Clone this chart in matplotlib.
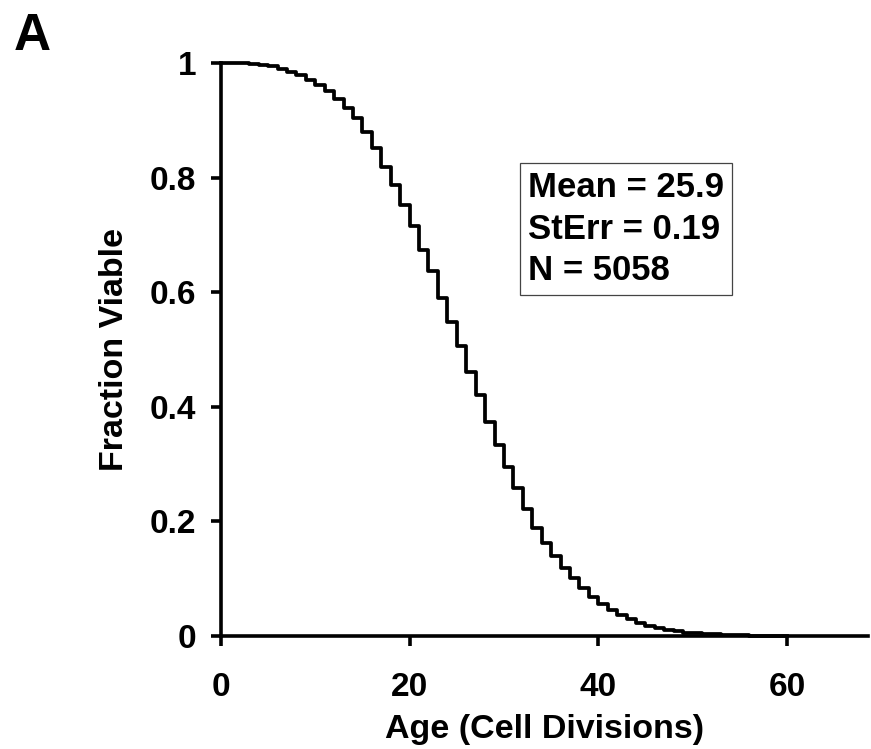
import numpy as np
import matplotlib
matplotlib.use("Agg")
import matplotlib.pyplot as plt

plt.rcParams['font.family'] = ['Liberation Sans', 'DejaVu Sans']
plt.rcParams['font.weight'] = 'bold'

# fraction of cells still viable at each age (cell divisions)
ages = np.arange(0, 61)
viable = [1.000, 1.000, 1.000, 0.999, 0.997, 0.994, 0.990, 0.985, 0.979, 0.971,
          0.962, 0.952, 0.938, 0.922, 0.904, 0.880, 0.851, 0.819, 0.787, 0.752,
          0.716, 0.674, 0.637, 0.590, 0.548, 0.506, 0.461, 0.421, 0.373, 0.333,
          0.295, 0.258, 0.221, 0.188, 0.162, 0.139, 0.119, 0.101, 0.084, 0.068,
          0.056, 0.045, 0.037, 0.030, 0.023, 0.017, 0.014, 0.010, 0.008, 0.006,
          0.005, 0.004, 0.003, 0.002, 0.0015, 0.001, 0.0007, 0.0004, 0.0002, 0.0001,
          0.0]

xticks = [0, 20, 40, 60]
yticks = [0, 0.2, 0.4, 0.6, 0.8, 1.0]
ytick_labels = ['0', '0.2', '0.4', '0.6', '0.8', '1']
stats = "Mean = 25.9\nStErr = 0.19\nN = 5058"

W, H = 871, 749
fig = plt.figure(figsize=(W / 100, H / 100), dpi=100)
ax = fig.add_axes([221 / W, 1 - 636 / H, (868 - 221) / W, (636 - 63) / H])

ax.step(ages, viable, where='post', color='black', lw=2.7, clip_on=False)

ax.set_xlim(0, 68.6)
ax.set_ylim(0, 1)
ax.set_xticks(xticks)
ax.set_yticks(yticks)
ax.set_yticklabels(ytick_labels)

for s in ['top', 'right']:
    ax.spines[s].set_visible(False)
for s in ['left', 'bottom']:
    ax.spines[s].set_linewidth(2.6)

ax.tick_params(axis='both', direction='out', length=7, width=2.6, labelsize=24)
ax.tick_params(axis='x', pad=19)
ax.tick_params(axis='y', pad=11)

ax.set_xlabel("Age (Cell Divisions)", fontsize=24.5, fontweight='bold', labelpad=8)
ax.set_ylabel("Fraction Viable", fontsize=24.5, fontweight='bold', labelpad=14)

ax.text(0.4745, 0.812, stats, transform=ax.transAxes, fontsize=25,
        fontweight='bold', va='top', ha='left', linespacing=1.34,
        bbox=dict(boxstyle='square,pad=0.22', fc='white', ec='#444444', lw=0.9))

fig.text(14 / W, 1 - 12 / H, "A", fontsize=37, fontweight='bold', va='top', ha='left')

fig.savefig("out.png", dpi=100)
